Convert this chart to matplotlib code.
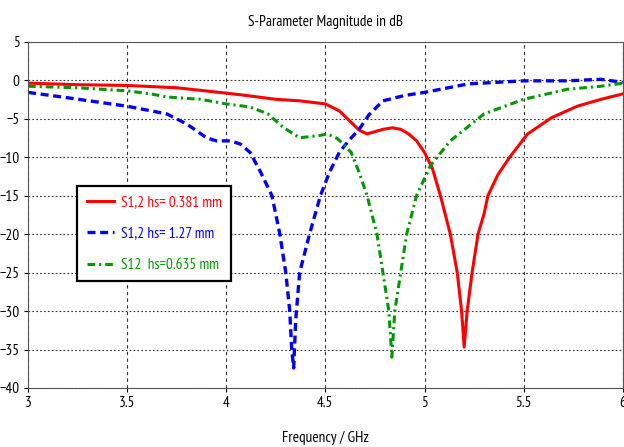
import numpy as np
import matplotlib.pyplot as plt

plt.rcParams['font.family'] = ['PT Sans Narrow', 'DejaVu Sans']
plt.rcParams['font.size'] = 11

# S-parameter traces (frequency in GHz, magnitude in dB)
f_red = [3.0, 3.25, 3.5, 3.75, 4.0, 4.1, 4.25, 4.37, 4.5, 4.57, 4.63, 4.67, 4.71, 4.75, 4.79,
         4.84, 4.88, 4.92, 4.96, 5.0, 5.04, 5.08, 5.13, 5.165, 5.187, 5.20, 5.215, 5.24, 5.27,
         5.30, 5.32, 5.37, 5.43, 5.52, 5.64, 5.77, 5.89, 6.0]
s_red = [-0.4, -0.6, -0.7, -1.0, -1.7, -2.0, -2.5, -2.7, -3.1, -4.0, -5.5, -6.5, -7.0, -6.7, -6.4,
         -6.2, -6.4, -7.0, -7.9, -9.4, -11.5, -15.0, -20.0, -25.0, -30.0, -34.7, -30.0, -25.0, -20.0,
         -17.4, -15.0, -12.3, -10.0, -7.0, -4.9, -3.4, -2.5, -1.8]

f_blue = [3.0, 3.2, 3.5, 3.7, 3.8, 3.9, 3.95, 4.02, 4.07, 4.12, 4.17, 4.23, 4.27, 4.30, 4.32,
          4.33, 4.34, 4.35, 4.37, 4.42, 4.475, 4.52, 4.57, 4.62, 4.67, 4.72, 4.79, 4.9, 5.0,
          5.22, 5.5, 5.72, 5.89, 6.0]
s_blue = [-1.6, -2.3, -3.4, -4.4, -5.7, -7.5, -7.9, -7.9, -8.3, -9.4, -11.8, -15.0, -20.0, -25.0,
          -30.0, -35.0, -37.4, -31.2, -25.0, -20.0, -15.0, -12.0, -9.4, -7.8, -6.4, -4.5, -2.7,
          -2.0, -1.6, -0.5, -0.1, -0.1, 0.1, -0.3]

f_green = [3.0, 3.25, 3.5, 3.62, 3.7, 3.87, 4.0, 4.12, 4.21, 4.29, 4.37, 4.47, 4.51, 4.56, 4.59,
           4.63, 4.67, 4.71, 4.76, 4.79, 4.82, 4.835, 4.85, 4.88, 4.91, 4.96, 5.03, 5.13, 5.30,
           5.5, 5.72, 5.89, 6.0]
s_green = [-0.8, -1.0, -1.4, -1.8, -2.2, -2.5, -3.1, -3.5, -4.4, -6.2, -7.5, -7.2, -7.0, -7.6, -8.3,
           -9.4, -12.0, -15.0, -20.0, -25.0, -30.0, -36.0, -30.0, -25.0, -20.0, -15.0, -11.1, -7.9,
           -4.4, -2.5, -1.2, -0.8, -0.4]

xticks = [3, 3.5, 4, 4.5, 5, 5.5, 6]
xticklabels = ['3', '3.5', '4', '4.5', '5', '5.5', '6']
yticks = [5, 0, -5, -10, -15, -20, -25, -30, -35, -40]

fig = plt.figure(figsize=(6.24, 4.47), dpi=100)
ax = fig.add_axes([0.045, 0.132, 0.953, 0.775])

ax.plot(f_red, s_red, color='#ff0000', linewidth=2.2, label='S1,2 hs= 0.381 mm')
ax.plot(f_blue, s_blue, color='#0000ff', linewidth=2.4, linestyle=(0, (2.4, 1.4)),
        label='S1,2 hs= 1.27 mm')
ax.plot(f_green, s_green, color='#009900', linewidth=2.2, linestyle=(0, (2.5, 1.3, 0.7, 1.3)),
        label='S12  hs=0.635 mm')

ax.set_xlim(3, 6)
ax.set_ylim(-40, 5)
ax.set_xticks(xticks)
ax.set_xticklabels(xticklabels)
ax.set_yticks(yticks)
ax.tick_params(direction='out', length=3, pad=3, labelsize=11)

# vertical grid dashed, horizontal grid dotted
ax.xaxis.grid(True, color='#333333', linestyle=(0, (3, 3)), linewidth=0.8)
ax.yaxis.grid(True, color='#333333', linestyle=(0, (1.5, 2)), linewidth=0.8)
for s in ax.spines.values():
    s.set_color('#555555')

ax.set_title('S-Parameter Magnitude in dB', fontsize=11, pad=11)
ax.set_xlabel('Frequency / GHz', fontsize=11, labelpad=15)

leg = ax.legend(loc='upper left', bbox_to_anchor=(0.083, 0.584), borderaxespad=0,
                fancybox=False, edgecolor='black', framealpha=1, fontsize=11,
                handlelength=1.8, handletextpad=0.45, labelspacing=1.15, borderpad=0.6)
leg.get_frame().set_linewidth(1.6)
for txt, line in zip(leg.get_texts(), leg.get_lines()):
    txt.set_color(line.get_color())

fig.savefig('out.png', dpi=100)
